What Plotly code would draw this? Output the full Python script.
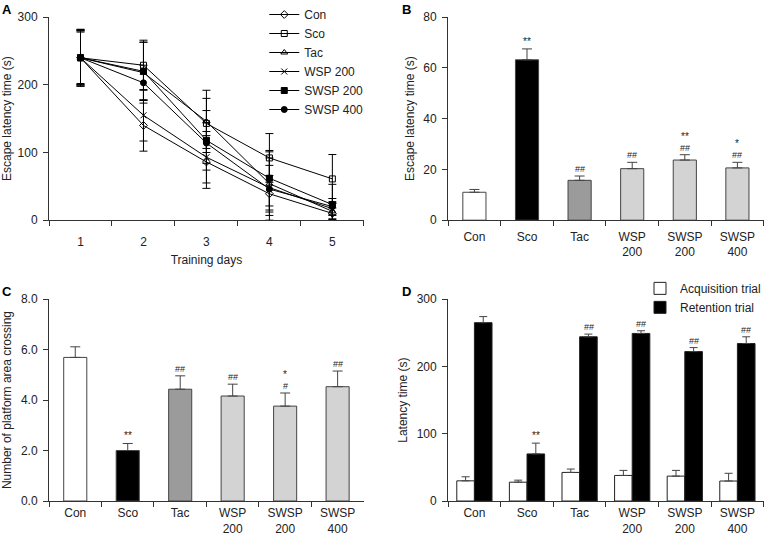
import plotly.graph_objects as go

# ---- data ----
days = [1, 2, 3, 4, 5]
line_groups = ["Con", "Sco", "Tac", "WSP 200", "SWSP 200", "SWSP 400"]
line_means = {
    "Con":      [240, 140, 86, 39, 10],
    "Sco":      [240, 229, 143, 92, 61],
    "Tac":      [240, 218, 146, 54, 13],
    "WSP 200":  [240, 155, 93, 48, 17],
    "SWSP 200": [240, 220, 118, 62, 23],
    "SWSP 400": [240, 203, 114, 46, 20],
}
line_errs = {
    "Con":      [42, 38, 39, 27, 8],
    "Sco":      [40, 37, 37, 36, 36],
    "Tac":      [38, 45, 46, 47, 12],
    "WSP 200":  [40, 38, 38, 33, 10],
    "SWSP 200": [42, 43, 44, 41, 30],
    "SWSP 400": [40, 26, 30, 46, 12],
}
line_symbols = ["diamond-open", "square-open", "triangle-up-open", "x-thin", "square", "circle"]

bar_groups = ["Con", "Sco", "Tac", "WSP<br>200", "SWSP<br>200", "SWSP<br>400"]
bar_colors = ["#ffffff", "#000000", "#9b9b9b", "#d3d3d3", "#d3d3d3", "#d3d3d3"]

escape_mean = [11.0, 63.2, 15.7, 20.3, 23.7, 20.6]
escape_err = [1.1, 4.3, 1.7, 2.5, 2.1, 2.2]
escape_sig = ["", "**", "##", "##", "##", "##"]
escape_sig2 = ["", "", "", "", "**", "*"]

cross_mean = [5.69, 2.00, 4.43, 4.16, 3.76, 4.53]
cross_err = [0.42, 0.28, 0.53, 0.47, 0.52, 0.62]
cross_sig = ["", "**", "##", "##", "#", "##"]
cross_sig2 = ["", "", "", "", "*", ""]

acq_mean = [30, 28, 42.5, 38, 37, 29.7]
acq_err = [6, 3, 5, 7.5, 8.5, 11.5]
ret_mean = [265, 70, 244, 249, 222, 234]
ret_err = [9, 16, 4, 4, 6, 10]
ret_sig = ["", "**", "##", "##", "##", "##"]

FONT = "Liberation Sans, Arial, sans-serif"
AX = "#333333"

fig = go.Figure()

# ---- panel A: line chart ----
for g, sym in zip(line_groups, line_symbols):
    fig.add_trace(go.Scatter(
        x=days, y=line_means[g], name=g, mode="lines+markers",
        line=dict(color="black", width=1),
        marker=dict(symbol=sym, size=6, color="black",
                    line=dict(color="black", width=1)),
        error_y=dict(type="data", array=line_errs[g], color="black", thickness=1, width=4),
        xaxis="x", yaxis="y", legend="legend",
    ))

# ---- panel B ----
fig.add_trace(go.Bar(
    x=bar_groups, y=escape_mean, marker=dict(color=bar_colors, line=dict(color="#444", width=1)),
    error_y=dict(type="data", array=escape_err, arrayminus=[0] * 6, symmetric=False,
                 color="#444", thickness=1, width=5),
    width=0.44, showlegend=False, xaxis="x2", yaxis="y2",
))

# ---- panel C ----
fig.add_trace(go.Bar(
    x=bar_groups, y=cross_mean, marker=dict(color=bar_colors, line=dict(color="#444", width=1)),
    error_y=dict(type="data", array=cross_err, arrayminus=[0] * 6, symmetric=False,
                 color="#444", thickness=1, width=5),
    width=0.44, showlegend=False, xaxis="x3", yaxis="y3",
))

# ---- panel D ----
fig.add_trace(go.Bar(
    x=bar_groups, y=acq_mean, name="Acquisition trial",
    marker=dict(color="white", line=dict(color="#222", width=1)),
    error_y=dict(type="data", array=acq_err, arrayminus=[0] * 6, symmetric=False,
                 color="#444", thickness=1, width=4),
    xaxis="x4", yaxis="y4", legend="legend2",
))
fig.add_trace(go.Bar(
    x=bar_groups, y=ret_mean, name="Retention trial",
    marker=dict(color="black", line=dict(color="#222", width=1)),
    error_y=dict(type="data", array=ret_err, arrayminus=[0] * 6, symmetric=False,
                 color="#444", thickness=1, width=4),
    xaxis="x4", yaxis="y4", legend="legend2",
))

# ---- significance marks ----
ann = []
def sig_marks(xref, yref, cats, tops, s1, s2, xshift=0):
    for c, t, a, b in zip(cats, tops, s1, s2):
        if a:
            ann.append(dict(x=c, y=t, xref=xref, yref=yref, text=a, showarrow=False,
                            yanchor="bottom", yshift=0, xshift=xshift,
                            font=dict(size=10 if "*" in a else 9, color="#222", family=FONT)))
        if b:
            ann.append(dict(x=c, y=t, xref=xref, yref=yref, text=b, showarrow=False,
                            yanchor="bottom", yshift=11, xshift=xshift,
                            font=dict(size=10, color="#222", family=FONT)))

sig_marks("x2", "y2", bar_groups, [m + e for m, e in zip(escape_mean, escape_err)], escape_sig, escape_sig2)
sig_marks("x3", "y3", bar_groups, [m + e for m, e in zip(cross_mean, cross_err)], cross_sig, cross_sig2)
sig_marks("x4", "y4", bar_groups, [m + e for m, e in zip(ret_mean, ret_err)], ret_sig, [""] * 6, xshift=9)

for txt, x, y in [("A", 0.0, 1.0), ("B", 0.522, 1.0), ("C", 0.0, 0.475), ("D", 0.522, 0.475)]:
    ann.append(dict(x=x, y=y, xref="paper", yref="paper", text="<b>%s</b>" % txt, showarrow=False,
                    xanchor="left", yanchor="top", font=dict(size=13, color="black", family=FONT)))

common_y = dict(showline=True, linecolor=AX, linewidth=1, ticks="outside", ticklen=5,
                tickcolor=AX, showgrid=False, zeroline=False, tickfont=dict(size=12, color="#222"),
                title_font=dict(size=12, color="#222"), automargin=False, ticklabelstandoff=3)
common_x = dict(showline=True, linecolor=AX, linewidth=1, showgrid=False, zeroline=False,
                tickfont=dict(size=12, color="#222"), title_font=dict(size=12, color="#222"),
                automargin=False)

fig.update_layout(
    width=766, height=537, margin=dict(l=0, r=0, t=0, b=0, autoexpand=False),
    paper_bgcolor="white", plot_bgcolor="white",
    font=dict(family=FONT, size=12, color="#222"),
    barmode="group", bargap=0.33, bargroupgap=0,
    annotations=ann,
    xaxis=dict(domain=[0.064, 0.475], anchor="y", range=[0.5, 5.5], tickvals=days,
               ticks="", ticklabelstandoff=10,
               minor=dict(tickvals=[0.5, 1.5, 2.5, 3.5, 4.5, 5.5], ticks="outside", ticklen=5, tickcolor=AX),
               title=dict(text="Training days", standoff=8), **common_x),
    yaxis=dict(domain=[0.590, 0.968], anchor="x", range=[0, 300], tickvals=[0, 100, 200, 300],
               title=dict(text="Escape latency time (s)", standoff=6), **common_y),
    xaxis2=dict(domain=[0.585, 0.997], anchor="y2", range=[-0.5, 5.5], tickson="boundaries",
                ticks="outside", ticklen=5, tickcolor=AX, ticklabelstandoff=5, **common_x),
    yaxis2=dict(domain=[0.590, 0.968], anchor="x2", range=[0, 80], tickvals=[0, 20, 40, 60, 80],
                title=dict(text="Escape latency time (s)", standoff=6), **common_y),
    xaxis3=dict(domain=[0.064, 0.475], anchor="y3", range=[-0.5, 5.5], tickson="boundaries",
                ticks="outside", ticklen=5, tickcolor=AX, ticklabelstandoff=1, **common_x),
    yaxis3=dict(domain=[0.067, 0.443], anchor="x3", range=[0, 8], tickvals=[0, 2, 4, 6, 8],
                tickformat=".1f",
                title=dict(text="Number of platform area crossing", standoff=6), **common_y),
    xaxis4=dict(domain=[0.585, 0.997], anchor="y4", range=[-0.5, 5.5], tickson="boundaries",
                ticks="outside", ticklen=5, tickcolor=AX, ticklabelstandoff=1, **common_x),
    yaxis4=dict(domain=[0.067, 0.443], anchor="x4", range=[0, 300], tickvals=[0, 100, 200, 300],
                title=dict(text="Latency time (s)", standoff=6), **common_y),
    legend=dict(x=0.345, y=1.0, xanchor="left", yanchor="top", bgcolor="rgba(0,0,0,0)",
                font=dict(size=12, color="#222"), itemwidth=30, tracegroupgap=0),
    legend2=dict(x=1.0, y=0.49, xanchor="right", yanchor="top", bgcolor="rgba(0,0,0,0)",
                 font=dict(size=12, color="#222"), itemwidth=30, traceorder="normal"),
)

# page body has a default 8px margin; remove it so the figure sits at the window origin
fig.write_html("out.html", config={"displayModeBar": False},
               post_script="document.body.style.margin='0';")
